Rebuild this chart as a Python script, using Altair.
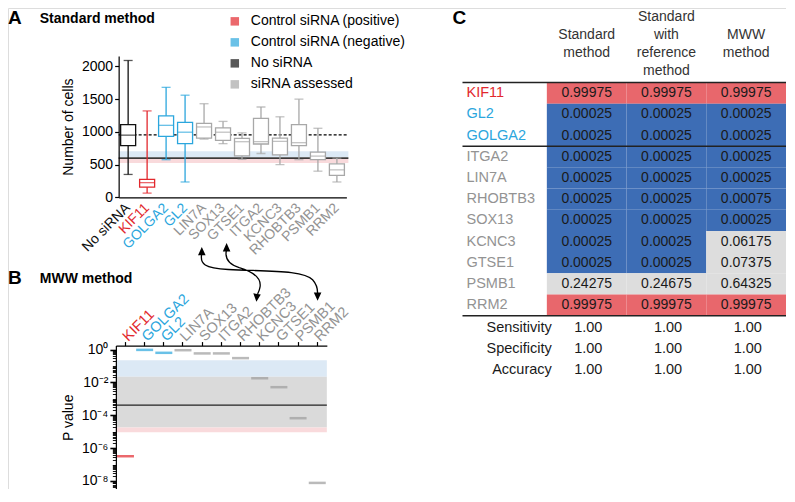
import altair as alt
import pandas as pd

# ------------------------------------------------------------------ data
# Panel A : box plots of number of cells (Standard method)
cats_a = ["No siRNA", "KIF11", "GOLGA2", "GL2", "LIN7A", "SOX13", "GTSE1",
          "ITGA2", "KCNC3", "RHOBTB3", "PSMB1", "RRM2"]
group_a = ["No siRNA", "Control siRNA (positive)", "Control siRNA (negative)",
           "Control siRNA (negative)"] + ["siRNA assessed"] * 8
whisk_hi = [2090, 1320, 1680, 1560, 1430, 1160, 985, 1380, 1230, 1500, 1055, 600]
q3_a = [1110, 275, 1245, 1145, 1130, 1060, 900, 1205, 905, 1110, 690, 510]
median_a = [950, 225, 1100, 995, 1075, 995, 850, 850, 855, 835, 630, 420]
q1_a = [790, 155, 930, 820, 905, 870, 635, 815, 650, 790, 575, 335]
whisk_lo = [350, 65, 575, 235, 890, 820, 580, 670, 500, 575, 400, 235]
ref_dashed_a = [955]
ref_solid_a = [600]
band_a_lo = [615, 590, 525]
band_a_hi = [705, 615, 590]
band_a_kind = ["negative", "neutral", "positive"]

legend_labels = ["Control siRNA (positive)", "Control siRNA (negative)",
                 "No siRNA", "siRNA assessed"]

# Panel B : MWW P values
cats_b = ["KIF11", "GOLGA2", "GL2", "LIN7A", "SOX13", "ITGA2", "RHOBTB3",
          "KCNC3", "GTSE1", "PSMB1", "RRM2"]
group_b = ["Control siRNA (positive)", "Control siRNA (negative)",
           "Control siRNA (negative)"] + ["siRNA assessed"] * 8
pvals_b = [3.2e-7, 0.95, 0.63, 0.91, 0.58, 0.58, 0.30, 0.018, 0.0051, 6.6e-5, 7.6e-9]
band_b_lo = [0.0224, 1.8e-5, 9.1e-6]
band_b_hi = [0.219, 0.0224, 1.8e-5]
band_b_kind = ["negative", "neutral", "positive"]
ref_line_b = [4.1e-4]

# Panel C : table
rows_c = ["KIF11", "GL2", "GOLGA2", "ITGA2", "LIN7A", "RHOBTB3", "SOX13",
          "KCNC3", "GTSE1", "PSMB1", "RRM2"]
row_group_c = ["Control siRNA (positive)", "Control siRNA (negative)",
               "Control siRNA (negative)"] + ["siRNA assessed"] * 8
headers_c = ["Standard\nmethod", "Standard\nwith\nreference\nmethod", "MWW\nmethod"]
std_c = [0.99975, 0.00025, 0.00025, 0.00025, 0.00025, 0.00025, 0.00025,
         0.00025, 0.00025, 0.24275, 0.99975]
stdref_c = [0.99975, 0.00025, 0.00025, 0.00025, 0.00025, 0.00025, 0.00025,
            0.00025, 0.00025, 0.24675, 0.99975]
mww_c = [0.99975, 0.00025, 0.00025, 0.00025, 0.00025, 0.00075, 0.00025,
         0.06175, 0.07375, 0.64325, 0.99975]
call_std = ["pos", "neg", "neg", "neg", "neg", "neg", "neg", "neg", "neg", "ns", "pos"]
call_stdref = ["pos", "neg", "neg", "neg", "neg", "neg", "neg", "neg", "neg", "ns", "pos"]
call_mww = ["pos", "neg", "neg", "neg", "neg", "neg", "neg", "ns", "ns", "ns", "pos"]
metrics_c = ["Sensitivity", "Specificity", "Accuracy"]
metric_vals = [[1.00, 1.00, 1.00], [1.00, 1.00, 1.00], [1.00, 1.00, 1.00]]

# ------------------------------------------------------------------ style
FONT = "Liberation Sans, Arial, Helvetica, sans-serif"
RED, BLUE, BLACK, GRAY = "#E2282D", "#2BA6DD", "#111111", "#A8A8A8"
group_color = {"Control siRNA (positive)": RED, "Control siRNA (negative)": BLUE,
               "No siRNA": BLACK, "siRNA assessed": GRAY}
band_color = {"negative": "#DCE9F5", "neutral": "#DADADA", "positive": "#F9DADC"}
cell_color = {"pos": "#E8676C", "neg": "#3D6DB5", "ns": "#DDDDDD"}
label_gray = "#939393"

W, H = 778, 481
SX = W / 784.0
SY = H / 492.0


def fx(p):
    return round((p - 8) * SX, 2)


def fy(p):
    return round((p - 8) * SY, 2)


def label_color_cond(cats, groups, default):
    conds = [{"test": f"datum.value === '{c}'", "value": group_color[g]}
             for c, g in zip(cats, groups) if g != "siRNA assessed"]
    return {"condition": conds, "value": default}


one = pd.DataFrame({"k": [0]})

# ------------------------------------------------------------------ panel A
dfa = pd.DataFrame({"cat": cats_a, "hi": whisk_hi, "q3": q3_a, "med": median_a,
                    "q1": q1_a, "lo": whisk_lo,
                    "col": [group_color[g] for g in group_a]})
xsa = alt.Scale(domain=cats_a, range=[fx(119.5), fx(349)], paddingInner=0, paddingOuter=0)
ysa = alt.Scale(domain=[0, 2160], range=[fy(201.7), fy(57)], nice=False, zero=False)

axis_xa = alt.Axis(orient="bottom", offset=fy(201.7) - H, title=None, labelAngle=315,
                   labelAlign="right", labelBaseline="middle", labelFontSize=14,
                   ticks=False, labelPadding=8, domainColor="black", domainWidth=1.2,
                   labelColor=label_color_cond(cats_a, group_a, label_gray),
                   grid=False, zindex=2)
axis_ya = alt.Axis(orient="left", offset=-fx(119.5), values=[0, 500, 1000, 1500, 2000],
                   format="d",
                   title="Number of cells", titleFontSize=14, titleFontWeight="normal",
                   titlePadding=6, labelFontSize=14, tickSize=4, domainColor="black",
                   tickColor="black", labelColor="black", titleColor="black",
                   grid=False, domainWidth=1.2, tickWidth=1.2, labelPadding=2, zindex=2)

dfa_band = pd.DataFrame({"lo": band_a_lo, "hi": band_a_hi,
                         "col": [band_color[k] for k in band_a_kind]})
a_bands = alt.Chart(dfa_band).mark_rect().encode(
    x=alt.value(fx(119.5)), x2=alt.value(fx(351)),
    y=alt.Y("lo:Q", scale=ysa, axis=None), y2="hi:Q",
    color=alt.Color("col:N", scale=None))
a_solid = alt.Chart(pd.DataFrame({"v": ref_solid_a})).mark_rule(
    color="black", strokeWidth=1.2).encode(
    x=alt.value(fx(119.5)), x2=alt.value(fx(351)), y=alt.Y("v:Q", scale=ysa, axis=None))
a_dash = alt.Chart(pd.DataFrame({"v": ref_dashed_a})).mark_rule(
    color="black", strokeWidth=1.2, strokeDash=[3, 2]).encode(
    x=alt.value(fx(119.5)), x2=alt.value(fx(351)), y=alt.Y("v:Q", scale=ysa, axis=None))
a_whisk = alt.Chart(dfa).mark_rule(strokeWidth=1.3).encode(
    x=alt.X("cat:N", sort=cats_a, scale=xsa, axis=axis_xa),
    y=alt.Y("lo:Q", scale=ysa, axis=axis_ya), y2="hi:Q",
    color=alt.Color("col:N", scale=None))
a_box = alt.Chart(dfa).mark_bar(size=15, fill="white", strokeWidth=1.3).encode(
    x=alt.X("cat:N", sort=cats_a, scale=xsa, axis=None),
    y=alt.Y("q1:Q", scale=ysa, axis=None), y2="q3:Q",
    stroke=alt.Stroke("col:N", scale=None))
a_med = alt.Chart(dfa).mark_tick(size=15, thickness=1.3).encode(
    x=alt.X("cat:N", sort=cats_a, scale=xsa, axis=None),
    y=alt.Y("med:Q", scale=ysa, axis=None), color=alt.Color("col:N", scale=None))
a_cap_hi = alt.Chart(dfa).mark_tick(size=9, thickness=1.3).encode(
    x=alt.X("cat:N", sort=cats_a, scale=xsa, axis=None),
    y=alt.Y("hi:Q", scale=ysa, axis=None), color=alt.Color("col:N", scale=None))
a_cap_lo = alt.Chart(dfa).mark_tick(size=9, thickness=1.3).encode(
    x=alt.X("cat:N", sort=cats_a, scale=xsa, axis=None),
    y=alt.Y("lo:Q", scale=ysa, axis=None), color=alt.Color("col:N", scale=None))
a_legend = alt.Chart(pd.DataFrame({"g": legend_labels})).mark_square(size=0).encode(
    color=alt.Color("g:N", scale=alt.Scale(domain=legend_labels,
                                           range=[group_color[g] for g in legend_labels]),
                    legend=alt.Legend(orient="none", legendX=fx(229.5), legendY=fy(14.5),
                                      title=None, symbolType="square", symbolSize=72,
                                      symbolStrokeWidth=0, labelFontSize=14,
                                      labelOffset=9, rowPadding=7, padding=0,
                                      labelColor="black", labelLimit=400)))
panel_a = alt.layer(a_bands, a_solid, a_dash, a_whisk, a_box, a_med,
                    a_cap_hi, a_cap_lo, a_legend).resolve_axis(x="independent", y="independent")

# ------------------------------------------------------------------ panel B
dfb = pd.DataFrame({"cat": cats_b, "p": pvals_b,
                    "col": [group_color[g] if g != "siRNA assessed" else "#9C9C9C"
                            for g in group_b]})
xsb = alt.Scale(domain=cats_b, range=[fx(116.7), fx(329.3)], paddingInner=0, paddingOuter=0)
ysb = alt.Scale(type="log", domain=[10 ** -8.49, 10 ** 0.24],
                range=[fy(500), fy(353.3)], nice=False)
major_b = [1, 1e-2, 1e-4, 1e-6, 1e-8]
minor_b = [k * 10.0 ** e for e in range(-9, 1) for k in range(1, 10)
           if 10 ** -8.49 <= k * 10.0 ** e <= 10 ** 0.24]
label_expr_b = ("datum.value >= 0.5 ? '10⁰' : datum.value >= 0.005 ? '10⁻²' : "
                "datum.value >= 5e-5 ? '10⁻⁴' : datum.value >= 5e-7 ? '10⁻⁶' : '10⁻⁸'")
axis_xb = alt.Axis(orient="top", offset=-fy(353.3), title=None, labelAngle=315,
                   labelAlign="left", labelBaseline="middle", labelFontSize=14.5,
                   tickSize=4, labelPadding=3, domainColor="black", domainWidth=1.2,
                   tickColor="black", tickWidth=1.2,
                   labelColor=label_color_cond(cats_b, group_b, label_gray),
                   grid=False, zindex=2)
axis_yb = alt.Axis(orient="left", offset=-fx(116.7), values=major_b, labelExpr=label_expr_b,
                   title="P value", titleFontSize=14, titleFontWeight="normal",
                   titlePadding=6, labelFontSize=14, tickSize=6, tickWidth=1.6,
                   domainColor="black", tickColor="black", labelColor="black",
                   titleColor="black", grid=False, domainWidth=1.2, labelPadding=2,
                   zindex=2)
axis_yb_minor = alt.Axis(orient="left", offset=-fx(116.7), values=minor_b, labels=False,
                         title=None, tickSize=3.5, tickWidth=0.9, tickColor="black",
                         domain=False, grid=False, zindex=2)

dfb_band = pd.DataFrame({"lo": band_b_lo, "hi": band_b_hi,
                         "col": [band_color[k] for k in band_b_kind]})
b_bands = alt.Chart(dfb_band).mark_rect().encode(
    x=alt.value(fx(116.7)), x2=alt.value(fx(329.3)),
    y=alt.Y("lo:Q", scale=ysb, axis=None), y2="hi:Q",
    color=alt.Color("col:N", scale=None))
b_line = alt.Chart(pd.DataFrame({"v": ref_line_b})).mark_rule(
    color="#222222", strokeWidth=1.3).encode(
    x=alt.value(fx(116.7)), x2=alt.value(fx(329.3)), y=alt.Y("v:Q", scale=ysb, axis=None))
b_bars = alt.Chart(dfb).mark_tick(size=17, thickness=2.5).encode(
    x=alt.X("cat:N", sort=cats_b, scale=xsb, axis=axis_xb),
    y=alt.Y("p:Q", scale=ysb, axis=axis_yb),
    color=alt.Color("col:N", scale=None))
b_minor = alt.Chart(dfb).mark_point(opacity=0).encode(
    y=alt.Y("p:Q", scale=ysb, axis=axis_yb_minor))
panel_b = alt.layer(b_bands, b_line, b_bars, b_minor).resolve_axis(x="independent",
                                                                   y="independent")

# ------------------------------------------------------------------ panel C
ROW_TOP, ROW_BOT = 84.3, 322.7
ROW_H = (ROW_BOT - ROW_TOP) / 11
HEAD_MID, HEAD_LH = 44.5, 18.5
xsc = alt.Scale(domain=[0, 3], range=[fx(551), fx(792)], nice=False, zero=False)
ysc = alt.Scale(domain=[0, 11], range=[fy(ROW_TOP), fy(ROW_BOT)], nice=False, zero=False)
cells = []
for r, name in enumerate(rows_c):
    for c, (vals, calls) in enumerate([(std_c, call_std), (stdref_c, call_stdref),
                                       (mww_c, call_mww)]):
        cells.append({"x0": c, "x1": c + 1, "xm": c + 0.5, "y0": r, "y1": r + 1,
                      "ym": r + 0.5, "val": vals[r], "col": cell_color[calls[r]]})
dfc = pd.DataFrame(cells)
c_rect = alt.Chart(dfc).mark_rect().encode(
    x=alt.X("x0:Q", scale=xsc, axis=None), x2="x1:Q",
    y=alt.Y("y0:Q", scale=ysc, axis=None), y2="y1:Q",
    color=alt.Color("col:N", scale=None))
c_text = alt.Chart(dfc).mark_text(fontSize=14, color="#1a1a1a").encode(
    x=alt.X("xm:Q", scale=xsc, axis=None), y=alt.Y("ym:Q", scale=ysc, axis=None),
    text=alt.Text("val:Q", format=".5f"))
dfc_rows = pd.DataFrame({"name": rows_c, "ym": [r + 0.5 for r in range(len(rows_c))],
                         "col": [group_color[g] if g != "siRNA assessed" else label_gray
                                 for g in row_group_c]})
c_rowlab = alt.Chart(dfc_rows).mark_text(align="left", fontSize=14.5).encode(
    x=alt.value(fx(470)), y=alt.Y("ym:Q", scale=ysc, axis=None),
    text="name:N", color=alt.Color("col:N", scale=None))
# first line of each (vertically centred) header block, in row units
head_first = [(HEAD_MID - (h.count("\n")) * HEAD_LH / 2 - ROW_TOP) / ROW_H for h in headers_c]
dfc_head = pd.DataFrame({"h": headers_c, "xm": [0.5, 1.5, 2.5], "ym": head_first})
c_head = alt.Chart(dfc_head).mark_text(lineBreak="\n", fontSize=14, lineHeight=HEAD_LH * SY,
                                       baseline="middle", align="center",
                                       color="#333333").encode(
    x=alt.X("xm:Q", scale=xsc, axis=None), y=alt.Y("ym:Q", scale=ysc, axis=None), text="h:N")
met_rows = []
for i, m in enumerate(metrics_c):
    for c in range(3):
        met_rows.append({"m": m, "xm": c + 0.52, "ym": len(rows_c) + 0.57 + i,
                         "v": metric_vals[i][c]})
dfc_met = pd.DataFrame(met_rows)
c_metlab = alt.Chart(dfc_met[dfc_met.xm < 1]).mark_text(
    align="right", fontSize=14.5, color="#1a1a1a").encode(
    x=alt.value(fx(556)), y=alt.Y("ym:Q", scale=ysc, axis=None), text="m:N")
c_metval = alt.Chart(dfc_met).mark_text(fontSize=14.5, color="#1a1a1a").encode(
    x=alt.X("xm:Q", scale=xsc, axis=None), y=alt.Y("ym:Q", scale=ysc, axis=None),
    text=alt.Text("v:Q", format=".2f"))
c_lines = alt.Chart(pd.DataFrame({"r": [0, 3, len(rows_c)]})).mark_rule(
    color="#222222", strokeWidth=1.5).encode(
    x=alt.value(fx(466)), x2=alt.value(fx(792)), y=alt.Y("r:Q", scale=ysc, axis=None))
panel_c = alt.layer(c_rect, c_text, c_rowlab, c_head, c_metlab, c_metval, c_lines)


# ------------------------------------------------------------------ titles
def label(txt, px, py, size, bold=True):
    return alt.Chart(one).mark_text(align="left", baseline="alphabetic", fontSize=size,
                                    fontWeight="bold" if bold else "normal",
                                    color="black").encode(
        x=alt.value(max(fx(px), 0)), y=alt.value(fy(py)), text=alt.value(txt))


titles = [label("A", 3, 24, 19), label("Standard method", 40, 23, 14),
          label("B", 3, 290, 19), label("MWW method", 40, 289.5, 14),
          label("C", 456, 24, 19)]


# ------------------------------------------------------------------ arrows
def P(x, y):
    return f"{fx(x):.1f},{fy(y):.1f}"


curves = (f"M{P(203.3,259)}C{P(201,270)} {P(206,274)} {P(230,275.5)}"
          f"C{P(270,277.5)} {P(306,276)} {P(315,286)}"
          f"C{P(318.5,290)} {P(320,295)} {P(320,299.5)}"
          f"M{P(228.3,255)}C{P(226,264)} {P(230,270)} {P(241,273.5)}"
          f"C{P(256,278)} {P(263,285)} {P(262,293)}"
          f"C{P(261.7,296)} {P(260.5,298.5)} {P(259.5,300.5)}")
heads = (f"M{P(203.3,252.5)}L{P(199.5,261)}L{P(207.1,261)}Z"
         f"M{P(228.3,248.5)}L{P(224.5,257)}L{P(232.1,257)}Z"
         f"M{P(320,307.5)}L{P(316.2,299)}L{P(323.8,299)}Z"
         f"M{P(258.3,308.5)}L{P(255.2,299.8)}L{P(262.8,301.2)}Z")
arrow_curves = alt.Chart(one).mark_point(shape=curves, size=4, filled=False,
                                         strokeWidth=1.3, color="black", opacity=1).encode(
    x=alt.value(0), y=alt.value(0))
arrow_heads = alt.Chart(one).mark_point(shape=heads, size=4, filled=True,
                                        strokeWidth=0, color="black", opacity=1).encode(
    x=alt.value(0), y=alt.value(0))

chart = alt.layer(panel_a, panel_b, panel_c, *titles, arrow_curves, arrow_heads).resolve_scale(
    x="independent", y="independent").properties(
    width=W, height=H, autosize=alt.AutoSizeParams(type="none"), padding=0
).configure_view(stroke=None).configure(font=FONT).configure_axis(
    labelFont=FONT, titleFont=FONT).configure_legend(labelFont=FONT).configure_text(font=FONT)

chart.save("out.html", embed_options={"renderer": "svg", "actions": False})
